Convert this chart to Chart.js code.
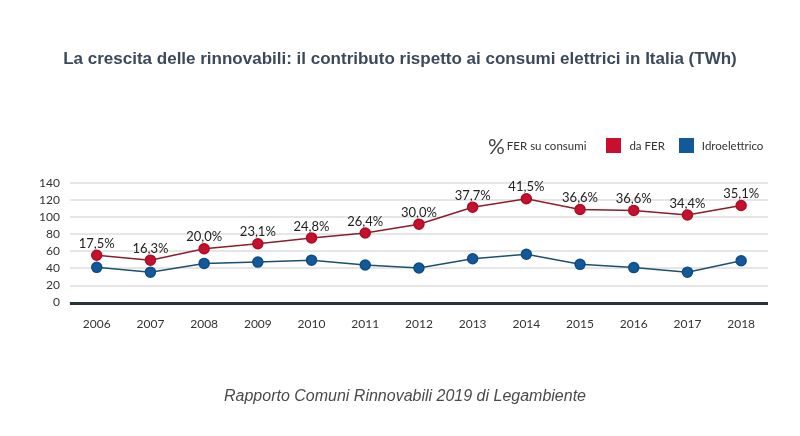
<!DOCTYPE html>
<html>
<head>
<meta charset="utf-8">
<script src="https://cdn.jsdelivr.net/npm/chart.js@4.4.0/dist/chart.umd.min.js"></script>
<style>
  html, body { margin: 0; padding: 0; background: #fff; }
  #wrap { position: relative; width: 800px; height: 436px; }
  #title {
    position: absolute; left: 0; top: 49px; width: 800px; text-align: center;
    font: bold 17px "Liberation Sans", Arial, sans-serif; color: #3b4a5b;
  }
  #source {
    position: absolute; left: 0; top: 387px; width: 810px; text-align: center;
    font: italic 16px "Liberation Sans", Arial, sans-serif; color: #4a4a4a;
  }
  #legend {
    position: absolute; left: 488px; top: 133px; height: 24px;
    display: flex; align-items: center;
    font: 11.5px Lato, "Open Sans", sans-serif; color: #333;
  }
  #legend .pct { font-size: 21px; margin-right: 2px; color: #444; }
  #legend .sw { width: 15px; height: 15px; display: inline-block; margin: 0 8px 0 20px; }
  #legend .sw2 { margin-left: 14px; }
  canvas { position: absolute; left: 0; top: 0; }
</style>
</head>
<body>
<div id="wrap">
  <canvas id="chart" width="800" height="436"></canvas>
  <div id="title">La crescita delle rinnovabili: il contributo rispetto ai consumi elettrici in Italia (TWh)</div>
  <div id="legend">
    <span class="pct">%</span><span>FER su consumi</span>
    <span class="sw" style="background:#c8102e"></span><span>da FER</span>
    <span class="sw sw2" style="background:#11599b"></span><span>Idroelettrico</span>
  </div>
  <div id="source">Rapporto Comuni Rinnovabili 2019 di Legambiente</div>
</div>
<script>
// Years on the x axis
const years = ['2006', '2007', '2008', '2009', '2010', '2011', '2012',
               '2013', '2014', '2015', '2016', '2017', '2018'];

// TWh produced from renewable sources (FER)
const daFer = [55.4, 49.7, 63.1, 68.9, 75.7, 81.5, 91.8, 111.7, 121.6, 109.0, 107.9, 102.5, 113.6];

// TWh from hydroelectric
const idro = [41.3, 35.6, 45.9, 47.4, 49.7, 44.0, 40.5, 51.3, 56.6, 44.8, 41.0, 35.6, 49.0];

// share of renewables on consumption, shown above the red points
const ferSuConsumi = ['17,5%', '16,3%', '20,0%', '23,1%', '24,8%', '26,4%', '30,0%',
                      '37,7%', '41,5%', '36,6%', '36,6%', '34,4%', '35,1%'];

const yTicks = [0, 20, 40, 60, 80, 100, 120, 140];

// Percentage labels over the "da FER" line
const pctLabels = {
    id: 'pctLabels',
    afterDatasetsDraw(chart) {
        const meta = chart.getDatasetMeta(0);
        const ctx = chart.ctx;
        ctx.save();
        ctx.font = '13px Lato, "Open Sans", sans-serif';
        ctx.fillStyle = '#222';
        ctx.textAlign = 'center';
        ctx.textBaseline = 'bottom';
        meta.data.forEach((pt, i) => {
            ctx.fillText(ferSuConsumi[i], pt.x, pt.y - 5);
        });
        ctx.restore();
    }
};

// Thick dark baseline under the plot
const baseline = {
    id: 'baseline',
    afterDraw(chart) {
        const { ctx, chartArea } = chart;
        const y = chart.scales.y.getPixelForValue(0);
        ctx.save();
        ctx.strokeStyle = '#26343a';
        ctx.lineWidth = 3;
        ctx.beginPath();
        ctx.moveTo(chartArea.left, y + 1);
        ctx.lineTo(chartArea.right, y + 1);
        ctx.stroke();
        ctx.restore();
    }
};

new Chart(document.getElementById('chart'), {
    type: 'line',
    data: {
        labels: years,
        datasets: [{
            label: 'da FER',
            data: daFer,
            borderColor: '#8c1d2a',
            borderWidth: 1.5,
            pointBackgroundColor: '#c8102e',
            pointBorderColor: '#a80f25',
            pointRadius: 5,
            tension: 0
        }, {
            label: 'Idroelettrico',
            data: idro,
            borderColor: '#1d4f6e',
            borderWidth: 1.5,
            pointBackgroundColor: '#11599b',
            pointBorderColor: '#0e4d85',
            pointRadius: 5,
            tension: 0
        }]
    },
    options: {
        responsive: false,
        animation: false,
        layout: {
            padding: { left: 29, right: 32, top: 183, bottom: 99 }
        },
        plugins: {
            legend: { display: false },
            title: { display: false },
            tooltip: { enabled: false }
        },
        scales: {
            x: {
                offset: true,
                grid: { display: false },
                border: { display: false },
                ticks: {
                    color: '#333',
                    padding: 6,
                    autoSkip: false,
                    maxRotation: 0,
                    font: { family: 'Lato', size: 12 }
                }
            },
            y: {
                min: 0,
                max: 140,
                afterBuildTicks: (axis) => {
                    axis.ticks = yTicks.map(v => ({ value: v }));
                },
                grid: { color: '#e6e6e6', lineWidth: 2, drawTicks: false },
                border: { display: false },
                ticks: {
                    color: '#333',
                    padding: 10,
                    autoSkip: false,
                    font: { family: 'Lato', size: 12 }
                }
            }
        }
    },
    plugins: [pctLabels, baseline]
});
</script>
</body>
</html>
